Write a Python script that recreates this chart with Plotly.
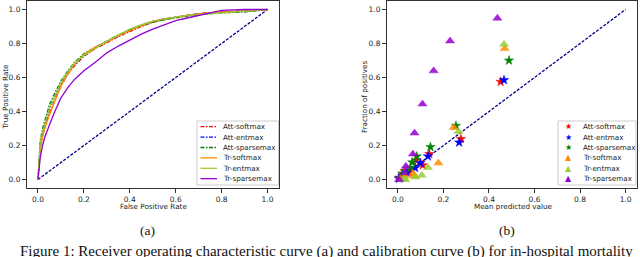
import plotly.graph_objects as go

W, H = 640, 257

# ---------------- data ----------------
roc_fpr = [0, .005, .01, .02, .03, .05, .07, .1, .13, .16, .2, .25, .3, .35, .4, .45, .5, .55, .6, .65, .7, .8, .9, 1.0]
roc_names = ["Att-softmax", "Att-entmax", "Att-sparsemax", "Tr-softmax", "Tr-entmax", "Tr-sparsemax"]
roc_tpr = {
    "Att-softmax":   [0, .11, .19, .26, .31, .39, .45, .55, .62, .67, .725, .77, .805, .84, .87, .9, .925, .94, .955, .965, .975, .985, .99, 1.0],
    "Att-entmax":    [0, .14, .21, .28, .33, .42, .48, .56, .63, .68, .73, .775, .81, .845, .88, .91, .93, .945, .955, .965, .975, .985, .99, 1.0],
    "Att-sparsemax": [0, .15, .23, .30, .35, .44, .50, .58, .64, .69, .74, .78, .815, .85, .88, .905, .925, .94, .95, .96, .97, .98, .985, 1.0],
    "Tr-softmax":    [0, .10, .17, .25, .30, .38, .45, .55, .62, .68, .735, .78, .81, .845, .875, .905, .93, .945, .955, .965, .975, .985, .99, 1.0],
    "Tr-entmax":     [0, .14, .22, .28, .33, .42, .48, .57, .635, .685, .73, .775, .815, .85, .885, .91, .93, .945, .955, .965, .97, .98, .99, 1.0],
    "Tr-sparsemax":  [0, .08, .13, .20, .25, .32, .39, .48, .54, .59, .64, .69, .745, .785, .82, .855, .885, .91, .935, .95, .965, .995, 1.0, 1.0],
}

cal_mean = {
    "Att-softmax":   [0.005, 0.03, 0.05, 0.08, 0.109, 0.138, 0.277, 0.451],
    "Att-entmax":    [0.005, 0.02, 0.04, 0.076, 0.099, 0.132, 0.269, 0.466],
    "Att-sparsemax": [0.01, 0.019, 0.055, 0.063, 0.083, 0.143, 0.255, 0.488],
    "Tr-softmax":    [0.01, 0.03, 0.067, 0.073, 0.178, 0.245, 0.469],
    "Tr-entmax":     [0.025, 0.033, 0.076, 0.105, 0.132, 0.266, 0.466],
    "Tr-sparsemax":  [0.005, 0.03, 0.035, 0.066, 0.073, 0.108, 0.157, 0.229, 0.437],
}
cal_frac = {
    "Att-softmax":   [0.01, 0.05, 0.04, 0.113, 0.084, 0.15, 0.238, 0.575],
    "Att-entmax":    [0.005, 0.02, 0.04, 0.068, 0.097, 0.136, 0.218, 0.585],
    "Att-sparsemax": [0.01, 0.035, 0.068, 0.101, 0.136, 0.191, 0.316, 0.70],
    "Tr-softmax":    [0.005, 0.02, 0.035, 0.02, 0.097, 0.306, 0.77],
    "Tr-entmax":     [0.0, 0.0, 0.014, 0.025, 0.07, 0.283, 0.795],
    "Tr-sparsemax":  [0.0, 0.04, 0.078, 0.15, 0.273, 0.444, 0.639, 0.815, 0.949],
}

colors = {
    "Att-softmax": "#ff0000",
    "Att-entmax": "#0000ff",
    "Att-sparsemax": "#008000",
    "Tr-softmax": "#ff8c00",
    "Tr-entmax": "#9acd32",
    "Tr-sparsemax": "#9400d3",
}
diag = [0, 1]
ticks = [0, 0.2, 0.4, 0.6, 0.8, 1.0]
tick_text = ["0.0", "0.2", "0.4", "0.6", "0.8", "1.0"]

# ---------------- styling ----------------
FONT = "DejaVu Sans"
TXT = "#222222"
DASHDOT = "4px,1.5px,1.5px,1.5px"
DIAG_DASH = "3px,1.5px"


def px(x):
    return x / W


def py(y):
    return (H - y) / H


fig = go.Figure()

# left: ROC
fig.add_trace(go.Scatter(x=diag, y=diag, mode="lines", xaxis="x", yaxis="y",
                         line=dict(color="#00008b", width=1.3, dash=DIAG_DASH), showlegend=False))
for n in roc_names:
    fig.add_trace(go.Scatter(
        x=roc_fpr, y=roc_tpr[n], mode="lines", xaxis="x", yaxis="y", name=n,
        line=dict(color=colors[n], width=1.3, dash=(DASHDOT if n.startswith("Att") else "solid")),
        showlegend=False))

# right: calibration
fig.add_trace(go.Scatter(x=diag, y=diag, mode="lines", xaxis="x2", yaxis="y2",
                         line=dict(color="#00008b", width=1.3, dash=DIAG_DASH), showlegend=False))
for n in roc_names:
    is_att = n.startswith("Att")
    fig.add_trace(go.Scatter(
        x=cal_mean[n], y=cal_frac[n], mode="markers", xaxis="x2", yaxis="y2", name=n,
        marker=dict(symbol="star" if is_att else "triangle-up", size=7 if is_att else 8,
                    color=colors[n], opacity=1 if is_att else 0.85,
                    line=dict(width=0.5, color=colors[n])),
        showlegend=False))

ydom = [py(188), py(1)]
axis_common = dict(range=[-0.05, 1.05], showgrid=False, zeroline=False, showline=True, mirror=True,
                   linecolor="#333333", linewidth=1, ticks="outside", ticklen=3.5, tickwidth=1,
                   tickcolor="#333333", tickvals=ticks, ticktext=tick_text, automargin=False,
                   tickfont=dict(family=FONT, size=7.5, color=TXT), fixedrange=True)

fig.update_layout(
    width=W, height=H, autosize=False, margin=dict(l=0, r=0, t=0, b=0, pad=0),
    paper_bgcolor="white", plot_bgcolor="white", showlegend=False,
    xaxis=dict(domain=[px(26.5), px(279)], anchor="y", **axis_common),
    yaxis=dict(domain=ydom, anchor="x", **axis_common),
    xaxis2=dict(domain=[px(386.5), px(637)], anchor="y2", **axis_common),
    yaxis2=dict(domain=ydom, anchor="x2", **axis_common),
)

ann = []
shapes = []


def note(text, x, y, size, color=TXT, family=FONT, xanchor="center", yanchor="middle", angle=0):
    ann.append(dict(text=text, x=px(x), y=py(y), xref="paper", yref="paper", showarrow=False,
                    xanchor=xanchor, yanchor=yanchor, textangle=angle,
                    font=dict(family=family, size=size, color=color)))


# axis titles
note("False Positive Rate", 153, 206, 7.2)
note("True Positive Rate", 4.5, 97, 7.2, angle=-90)
note("Mean predicted value", 513, 206, 7.2)
note("Fraction of positives", 364, 97, 7.2, angle=-90)

# sub captions
SERIF = "Liberation Serif"
note("(a)", 147, 230, 13.5, color="#111", family=SERIF)
note("(b)", 507, 230, 13.5, color="#111", family=SERIF)
note("Figure 1: Receiver operating characteristic curve (a) and calibration curve (b) for in-hospital mortality",
     18, 251, 15, color="#111", family=SERIF, xanchor="left")

# legends
rows = [126.7, 137.1, 147.5, 157.9, 168.3, 178.7]
shapes.append(dict(type="rect", xref="paper", yref="paper", x0=px(197), x1=px(278.5), y0=py(185), y1=py(121),
                   line=dict(color="#cccccc", width=1), fillcolor="rgba(255,255,255,0.85)", layer="above"))
shapes.append(dict(type="rect", xref="paper", yref="paper", x0=px(558), x1=px(636), y0=py(185), y1=py(121),
                   line=dict(color="#cccccc", width=1), fillcolor="rgba(255,255,255,0.85)", layer="above"))
for n, ry in zip(roc_names, rows):
    is_att = n.startswith("Att")
    shapes.append(dict(type="line", xref="paper", yref="paper", x0=px(200.5), x1=px(217), y0=py(ry), y1=py(ry),
                       line=dict(color=colors[n], width=1.3, dash=(DASHDOT if is_att else "solid")), layer="above"))
    note(n, 221, ry, 7.2, xanchor="left")
    note("★" if is_att else "▲", 568.5, ry, 8, color=colors[n])
    note(n, 580.5, ry, 7.2, xanchor="left")

fig.update_layout(annotations=ann, shapes=shapes)
fig.write_html("out.html", config={"displayModeBar": False},
               post_script="document.body.style.margin='0';document.body.style.padding='0';")
